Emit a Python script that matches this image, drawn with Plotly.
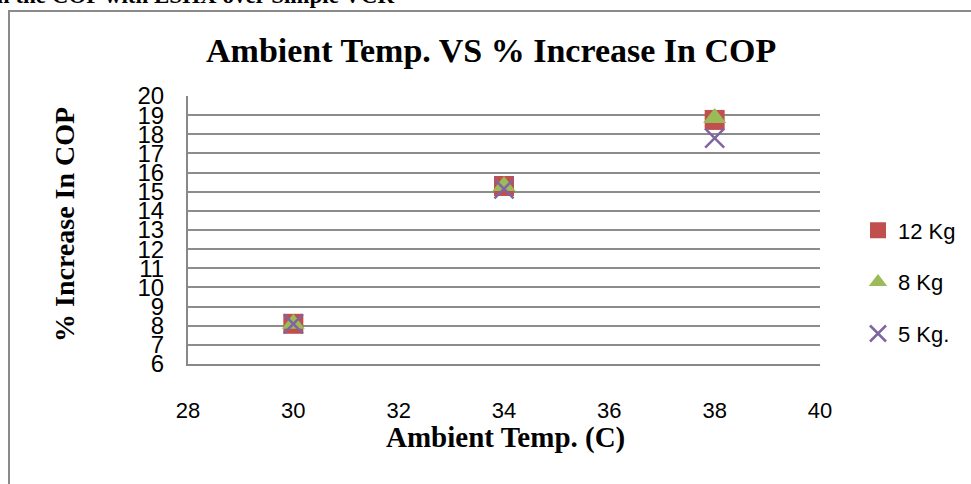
import plotly.graph_objects as go

temps = [30, 34, 38]
kg12 = [8.1, 15.3, 18.75]
kg8 = [8.1, 15.3, 18.85]
kg5 = [8.1, 15.15, 17.8]
series_names = ["12 Kg", "8 Kg", "5 Kg."]
x_ticks = [28, 30, 32, 34, 36, 38, 40]
y_ticks = list(range(6, 21))

W, H = 971, 484
L, R, T, B = 188, 820, 96, 364

def px(xp):
    return (xp - L) / (R - L)

def py(yp):
    return (B - yp) / (B - T)

SANS = "Liberation Sans Narrow, Arial Narrow, Liberation Sans"
SERIF = "Liberation Serif, Times New Roman"

fig = go.Figure()
fig.add_trace(go.Scatter(x=temps, y=kg12, mode="markers", name=series_names[0],
                         legendgroup="a",
                         marker=dict(symbol="square", size=20, color="#C0504D")))
fig.add_trace(go.Scatter(x=temps, y=kg8, mode="markers", name=series_names[1],
                         legendgroup="b",
                         marker=dict(symbol="triangle-up", size=20, color="#9BBB59")))
fig.add_trace(go.Scatter(x=temps, y=kg5, mode="markers", name=series_names[2],
                         legendgroup="c",
                         marker=dict(symbol="x-thin-open", size=19, color="#8064A2",
                                     line=dict(width=2.5, color="#8064A2"))))

fig.update_layout(
    width=W, height=H,
    margin=dict(l=L, r=W - R, t=T, b=H - B, autoexpand=False),
    paper_bgcolor="white", plot_bgcolor="white",
    showlegend=True,
    legend=dict(x=px(858), y=py(282), xanchor="left", yanchor="middle",
                font=dict(family=SANS, size=22, color="black"),
                tracegroupgap=20, itemwidth=30, bgcolor="rgba(0,0,0,0)"),
    xaxis=dict(range=[28, 40], tickvals=x_ticks, showgrid=False, zeroline=False,
               showline=True, linecolor="#888888", linewidth=2, ticks="",
               ticklabelstandoff=26,
               tickfont=dict(family=SANS, size=22, color="black")),
    yaxis=dict(range=[6, 20], tickvals=y_ticks, showgrid=True, gridcolor="#8c8c8c", gridwidth=1.5,
               zeroline=False, showline=True, linecolor="#888888", linewidth=2, ticks="",
               ticklabelstandoff=17,
               tickfont=dict(family=SANS, size=24, color="black")),
    shapes=[dict(type="rect", xref="paper", yref="paper",
                 x0=px(9), x1=px(990), y0=py(11), y1=py(500),
                 line=dict(color="#8a8a8a", width=2), fillcolor="rgba(0,0,0,0)", layer="below")],
    annotations=[
        dict(text="<b>Ambient Temp. VS % Increase In COP</b>", xref="paper", yref="paper",
             x=px(491), y=py(51), xanchor="center", yanchor="middle", showarrow=False,
             font=dict(family=SERIF, size=34, color="black")),
        dict(text="<b>% Increase In COP</b>", xref="paper", yref="paper",
             x=px(64), y=py(225), xanchor="center", yanchor="middle", showarrow=False, textangle=-90,
             font=dict(family=SERIF, size=28, color="black")),
        dict(text="<b>Ambient Temp. (C)</b>", xref="paper", yref="paper",
             x=px(505), y=py(437), xanchor="center", yanchor="middle", showarrow=False,
             font=dict(family=SERIF, size=29, color="black")),
        dict(text="<b>Fig: % Increase in the COP with ESHX over Simple VCR</b>", xref="paper", yref="paper",
             x=px(396), y=py(10), xanchor="right", yanchor="bottom", showarrow=False,
             font=dict(family=SERIF, size=23, color="black")),
    ],
)

fig.write_html("out.html", config={"displayModeBar": False},
               post_script="document.body.style.margin='0';document.body.style.overflow='hidden';")
